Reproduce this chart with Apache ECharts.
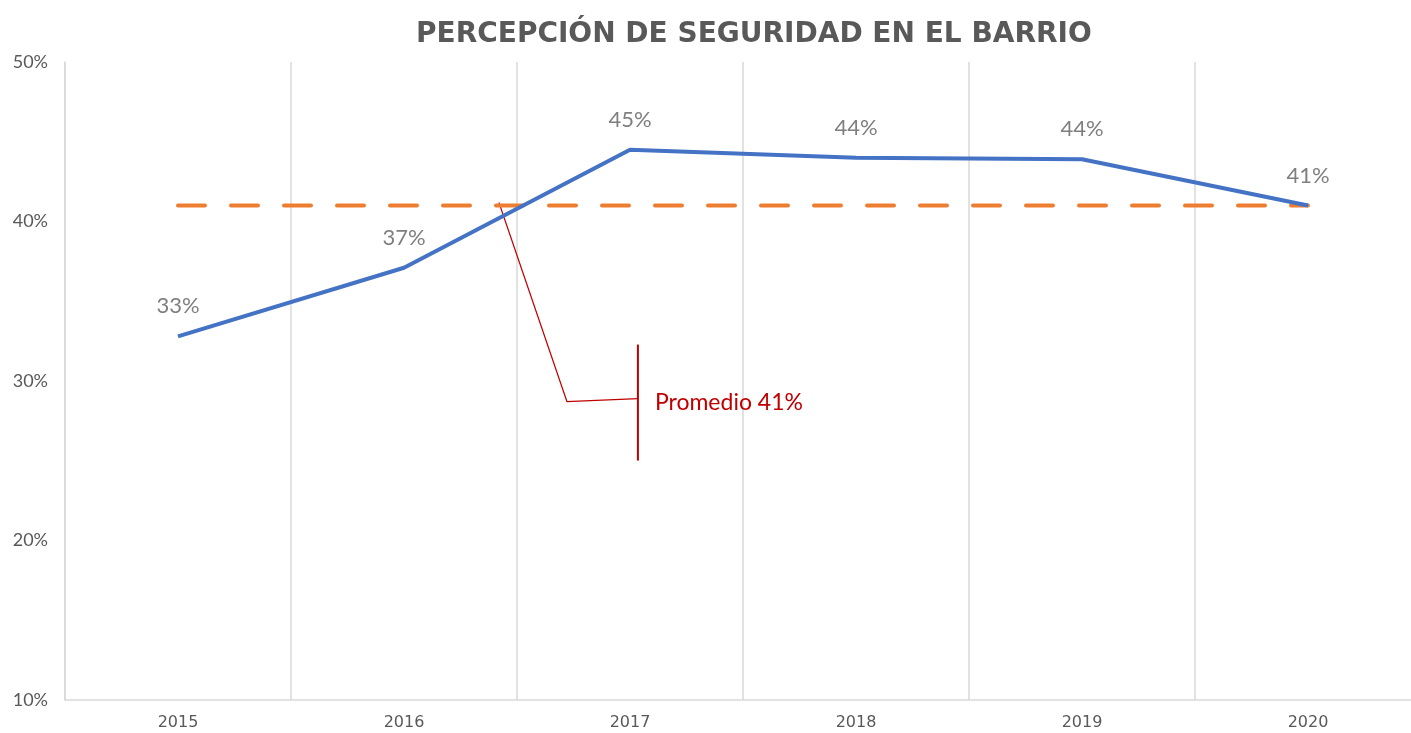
<!DOCTYPE html>
<html>
<head>
    <meta charset="utf-8">
    <title>Percepción de seguridad en el barrio</title>
    <script src="https://cdn.jsdelivr.net/npm/echarts@6.0.0/dist/echarts.min.js"></script>
    <style>
        html, body { margin: 0; padding: 0; background: #fff; }
        #chart { width: 1411px; height: 733px; }
    </style>
</head>
<body>
    <div id="chart"></div>
    <script>
        // datos (porcentaje)
        const years = ['2015', '2016', '2017', '2018', '2019', '2020'];
        const seguridad = [32.8, 37.1, 44.5, 44.0, 43.9, 41.0];
        const promedio = [41, 41, 41, 41, 41, 41];
        const yTicks = { min: 10, max: 50, step: 10 };

        const chart = echarts.init(document.getElementById('chart'));

        chart.setOption({
            animation: false,
            title: {
                text: 'PERCEPCIÓN DE SEGURIDAD EN EL BARRIO',
                left: 411,
                top: 16,
                textStyle: {
                    fontFamily: 'DejaVu Sans',
                    fontWeight: 'bold',
                    fontSize: 28,
                    color: '#595959'
                }
            },
            grid: { left: 65, top: 62, right: -10, bottom: 33, outerBoundsMode: 'none', containLabel: false },
            xAxis: {
                type: 'category',
                data: years,
                boundaryGap: true,
                axisLine: { lineStyle: { color: '#d9d9d9', width: 1.5 } },
                axisTick: { show: false },
                axisLabel: { color: '#595959', fontFamily: 'DejaVu Sans', fontSize: 16, margin: 15 },
                splitLine: { show: true, lineStyle: { color: '#d9d9d9', width: 1.5 } }
            },
            yAxis: {
                type: 'value',
                min: yTicks.min,
                max: yTicks.max,
                interval: yTicks.step,
                axisLine: { show: true, lineStyle: { color: '#d9d9d9', width: 1.5 } },
                axisTick: { show: false },
                splitLine: { show: false },
                axisLabel: {
                    color: '#595959', fontFamily: 'Lato', fontSize: 18, margin: 17,
                    formatter: '{value}%'
                }
            },
            series: [
                {
                    name: 'Promedio',
                    type: 'line',
                    data: promedio,
                    symbol: 'none',
                    z: 2,
                    lineStyle: { color: '#ED7D31', width: 4, type: [27, 26], cap: 'round' }
                },
                {
                    name: 'Seguridad',
                    type: 'line',
                    data: seguridad,
                    symbol: 'circle',
                    symbolSize: 0,
                    showSymbol: true,
                    z: 3,
                    lineStyle: { color: '#4472C4', width: 4 },
                    itemStyle: { color: '#4472C4' },
                    label: {
                        show: true,
                        position: 'top',
                        distance: 19,
                        color: '#7f7f7f',
                        fontFamily: 'Lato',
                        fontSize: 22,
                        formatter: p => Math.round(p.value) + '%'
                    }
                }
            ]
        });

        // llamada "Promedio 41%" anclada a la línea de promedio
        const p16 = chart.convertToPixel({ seriesIndex: 0 }, [1, promedio[1]]);
        const p17 = chart.convertToPixel({ seriesIndex: 0 }, [2, promedio[2]]);
        const ax = p16[0] + 0.42 * (p17[0] - p16[0]);
        const ay = p16[1] - 3;
        const red = '#C00000';
        chart.setOption({
            graphic: [
                {
                    type: 'polyline',
                    shape: { points: [[ax, ay], [ax + 68, ay + 199], [ax + 139, ay + 196]] },
                    style: { stroke: red, lineWidth: 1.2, fill: null }
                },
                {
                    type: 'line',
                    shape: { x1: ax + 139, y1: ay + 142, x2: ax + 139, y2: ay + 258 },
                    style: { stroke: red, lineWidth: 2 }
                },
                {
                    type: 'text',
                    x: ax + 156,
                    y: ay + 200,
                    style: {
                        text: 'Promedio ' + promedio[0] + '%',
                        fill: red,
                        font: '23px Lato',
                        verticalAlign: 'middle'
                    }
                }
            ]
        });
    </script>
</body>
</html>
